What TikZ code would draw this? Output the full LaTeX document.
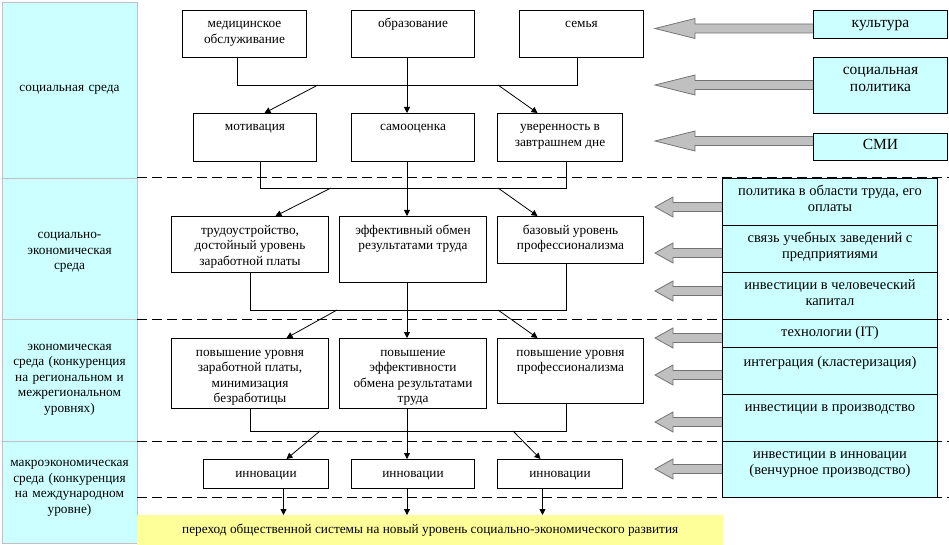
\documentclass[tikz,border=0pt]{standalone}
\usepackage{fontspec}
\setmainfont{Liberation Serif}
\usetikzlibrary{arrows.meta}
\definecolor{cyanbg}{HTML}{CCFFFF}
\definecolor{yel}{HTML}{FFFF99}
\definecolor{arrfill}{HTML}{C0C0C0}
\definecolor{lgrey}{HTML}{C0C0C0}
\tikzset{
 box/.style={draw=black, line width=1pt, fill=white},
 cbox/.style={draw=black, line width=1pt, fill=cyanbg, font=\fontsize{14.5}{16}\selectfont},
 tbox/.style={draw=black, line width=1pt, fill=cyanbg, font=\fontsize{15.5}{17}\selectfont},
 lbox/.style={draw=lgrey, line width=1pt, fill=cyanbg, inner sep=0pt, anchor=north west, minimum width=135pt},
 ltext/.style={align=center, inner sep=0pt, text width=133pt},
 conn/.style={line width=0.8pt},
 arr/.style={conn, -{Triangle[length=6pt,width=6pt]}},
 sepline/.style={line width=1pt, dash pattern=on 10pt off 5pt},
 bigarr/.style={draw=black!55, line width=0.8pt, fill=arrfill},
}
\newcommand{\mkbox}[8][box]{\node[#1, anchor=north west, inner sep=0pt] (#2) at (#3,#4) {\parbox[c][#6pt][t]{#5pt}{\centering\rule{0pt}{#7pt}#8\par}};}
\newcommand{\barrow}[4]{\draw[bigarr] (#1,#2-4.5) -- (#3+#4,#2-4.5) -- (#3+#4,#2-10) -- (#3,#2) -- (#3+#4,#2+10) -- (#3+#4,#2+4.5) -- (#1,#2+4.5);}
\begin{document}
\begin{tikzpicture}[x=1pt,y=-1pt,font=\fontsize{13.3}{15.5}\selectfont]
\useasboundingbox (0,0) rectangle (949,545);
% left column
\node[lbox, minimum height=176pt] (L1) at (2,2) {};
\node[lbox, minimum height=141pt] (L2) at (2,178) {};
\node[lbox, minimum height=122pt] (L3) at (2,319) {};
\node[lbox, minimum height=102pt] (L4) at (2,441) {};
\node[ltext] (L1t) at (69.5,90) {социальная среда};
\node[ltext] (L2t) at (69.5,252.5) {социально-\\экономическая\\среда};
\node[ltext] (L3t) at (69.5,379.5) {экономическая\\среда (конкуренция\\на региональном и\\межрегиональном\\уровнях)};
\node[ltext] (L4t) at (69.5,488.5) {макроэкономическая\\среда (конкуренция\\на международном\\уровне)};
% separators
\coordinate (s1a) at (137,178); \coordinate (s1b) at (949,178);
\coordinate (s2a) at (137,319); \coordinate (s2b) at (949,319);
\coordinate (s3a) at (137,441); \coordinate (s3b) at (949,441);
\coordinate (s4a) at (137,497); \coordinate (s4b) at (949,497);
\draw[sepline] (s1a) -- (s1b);
\draw[sepline] (s2a) -- (s2b);
\draw[sepline] (s3a) -- (s3b);
\draw[sepline] (s4a) -- (s4b);
% result
\node[fill=yel, anchor=north west, minimum width=586pt, minimum height=30pt, inner sep=0pt] (res) at (137,515) {\raisebox{2pt}{переход общественной системы на новый уровень социально-экономического развития}};
% tier 1 boxes
\mkbox{med}{182}{10}{124}{47}{17.5}{медицинское\\обслуживание}
\mkbox{obr}{351}{10}{123}{47}{17.5}{образование}
\mkbox{sem}{519}{10}{124}{47}{17.5}{семья}
\mkbox{mot}{193}{113}{123}{48}{17.5}{мотивация}
\mkbox{sam}{351}{113}{123}{48}{17.5}{самооценка}
\mkbox{uve}{497}{113}{125}{48}{17.5}{уверенность в\\завтрашнем дне}
% tier 2 boxes
\mkbox{tr}{171}{216}{157}{56}{17.5}{трудоустройство,\\достойный уровень\\заработной платы}
\mkbox{ef}{339}{216}{147}{66}{17.5}{эффективный обмен\\результатами труда}
\mkbox{baz}{497}{216}{146}{47}{17.5}{базовый уровень\\профессионализма}
% tier 3 boxes
\mkbox{pz}{171}{338}{157}{70}{17.5}{повышение уровня\\заработной платы,\\минимизация\\безработицы}
\mkbox{pe}{339}{338}{147}{70}{17.5}{повышение\\эффективности\\обмена результатами\\труда}
\mkbox{pp}{497}{338}{146}{65}{17.5}{повышение уровня\\профессионализма}
% tier 4 boxes
\mkbox{ina}{203}{459}{125}{29}{17.5}{инновации}
\mkbox{inb}{351}{459}{123}{29}{17.5}{инновации}
\mkbox{inc}{497}{459}{125}{29}{17.5}{инновации}
% connectors
\coordinate (c407) at (407,0);
\coordinate (t1L) at (237,85); \coordinate (t1R) at (577,85);
\draw[conn] (med.south -| t1L) -- (t1L) -- (t1R) -- (sem.south -| t1R);
\draw[arr] (obr.south -| c407) -- (sam.north -| c407);
\coordinate (t1a) at (318,85); \draw[arr] (t1a) -- ([xshift=9.5pt]mot.north);
\coordinate (t1b) at (498,85); \draw[arr] (t1b) -- ([xshift=-22.5pt]uve.north);
\coordinate (t2L) at (260,188); \coordinate (t2R) at (566,188);
\draw[conn] (mot.south -| t2L) -- (t2L) -- (t2R) -- (uve.south -| t2R);
\draw[arr] (sam.south -| c407) -- (ef.north -| c407);
\coordinate (t2a) at (331,188); \draw[arr] (t2a) -- ([xshift=25.5pt]tr.north);
\coordinate (t2b) at (498,188); \draw[arr] (t2b) -- ([xshift=-33pt]baz.north);
\coordinate (t3L) at (250,310); \coordinate (t3R) at (566,310);
\draw[conn] (tr.south -| t3L) -- (t3L) -- (t3R) -- (baz.south -| t3R);
\draw[arr] (ef.south -| c407) -- (pe.north -| c407);
\coordinate (t3a) at (337,310); \draw[arr] (t3a) -- ([xshift=36.5pt]pz.north);
\coordinate (t3b) at (498,310); \draw[arr] (t3b) -- ([xshift=-33pt]pp.north);
\coordinate (t4L) at (250,431); \coordinate (t4R) at (566,431);
\draw[conn] (pz.south -| t4L) -- (t4L) -- (t4R) -- (pp.south -| t4R);
\draw[arr] (pe.south -| c407) -- (inb.north -| c407);
\coordinate (t4a) at (320,431); \draw[arr] (t4a) -- ([xshift=20.5pt]ina.north);
\coordinate (t4b) at (513,431); \draw[arr] (t4b) -- ([xshift=-19.5pt]inc.north);
\draw[arr] ([xshift=17.5pt]ina.south) -- ([xshift=17.5pt]ina.south |- res.north);
\draw[arr] (inb.south -| c407) -- (res.north -| c407);
\draw[arr] ([xshift=-17.5pt]inc.south) -- ([xshift=-17.5pt]inc.south |- res.north);
% big arrows
\barrow{813}{28.5}{655}{40}
\barrow{813}{85}{655}{40}
\barrow{813}{141}{655}{40}
\barrow{722}{207}{655}{18}
\barrow{722}{253}{655}{18}
\barrow{722}{291}{655}{18}
\barrow{722}{338}{655}{18}
\barrow{722}{375}{655}{18}
\barrow{722}{422}{655}{18}
\barrow{722}{469}{655}{18}
% right boxes
\mkbox[tbox]{ku}{813}{10}{134}{28}{17}{культура}
\mkbox[tbox]{sp}{813}{57}{134}{56}{17.5}{социальная\\политика}
\mkbox[tbox]{smi}{813}{133}{134}{27}{16}{СМИ}
\mkbox[cbox]{ra}{722}{178}{215}{47}{17}{политика в области труда, его\\оплаты}
\mkbox[cbox]{rb}{722}{225}{215}{47}{17}{связь учебных заведений с\\предприятиями}
\mkbox[cbox]{rc}{722}{272}{215}{47}{17}{инвестиции в человеческий\\капитал}
\mkbox[cbox]{rd}{722}{319}{215}{28}{17}{технологии (IT)}
\mkbox[cbox]{re}{722}{347}{215}{47}{18.5}{интеграция (кластеризация)}
\mkbox[cbox]{rf}{722}{394}{215}{47}{17}{инвестиции в производство}
\mkbox[cbox]{rg}{722}{441}{215}{56}{17}{инвестиции в инновации\\(венчурное производство)}
\end{tikzpicture}
\end{document}
